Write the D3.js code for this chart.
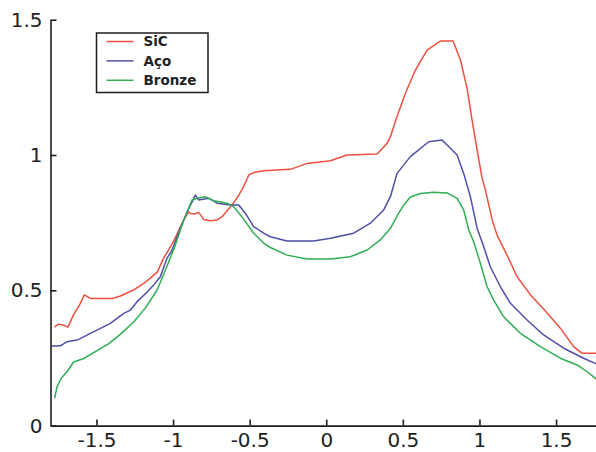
<!DOCTYPE html>
<html>
<head>
<meta charset="utf-8">
<script src="https://cdn.jsdelivr.net/npm/d3@7"></script>
<style>
  html, body { margin: 0; padding: 0; background: #fff; }
  svg { display: block; }
</style>
</head>
<body>
<div id="chart"></div>
<script>
// Series values (x in normalized position, y in measured response)
const sicX = [-1.774,-1.748,-1.716,-1.686,-1.650,-1.610,-1.579,-1.539,-1.474,-1.396,-1.344,-1.259,-1.194,-1.148,-1.102,-1.062,-1.029,-0.998,-0.965,-0.930,-0.898,-0.887,-0.861,-0.833,-0.800,-0.756,-0.712,-0.680,-0.615,-0.571,-0.539,-0.506,-0.474,-0.408,-0.234,-0.125,0.027,0.136,0.332,0.397,0.419,0.462,0.517,0.582,0.658,0.745,0.828,0.876,0.919,0.952,0.985,1.017,1.039,1.083,1.115,1.180,1.246,1.333,1.419,1.528,1.615,1.670,1.763,1.80];
const sicY = [0.364,0.375,0.371,0.364,0.409,0.446,0.483,0.470,0.470,0.470,0.479,0.501,0.525,0.545,0.568,0.619,0.649,0.680,0.719,0.760,0.790,0.784,0.782,0.788,0.762,0.757,0.760,0.772,0.815,0.852,0.883,0.926,0.935,0.942,0.947,0.969,0.979,1.000,1.004,1.043,1.068,1.142,1.228,1.314,1.388,1.421,1.421,1.351,1.247,1.129,1.018,0.915,0.871,0.760,0.704,0.630,0.550,0.483,0.431,0.360,0.292,0.267,0.267,0.267];

const acoX = [-1.794,-1.735,-1.692,-1.626,-1.539,-1.409,-1.322,-1.278,-1.235,-1.169,-1.126,-1.083,-1.039,-1.006,-0.974,-0.908,-0.854,-0.833,-0.767,-0.712,-0.626,-0.571,-0.528,-0.474,-0.408,-0.365,-0.256,-0.082,0.027,0.179,0.288,0.375,0.419,0.462,0.549,0.669,0.756,0.789,0.854,0.897,0.941,0.985,1.028,1.071,1.137,1.202,1.311,1.419,1.550,1.680,1.763,1.80];
const acoY = [0.294,0.295,0.310,0.316,0.341,0.378,0.415,0.427,0.458,0.494,0.520,0.550,0.619,0.649,0.698,0.790,0.852,0.834,0.840,0.822,0.815,0.815,0.785,0.735,0.711,0.698,0.682,0.682,0.692,0.711,0.748,0.797,0.846,0.932,0.994,1.049,1.055,1.037,1.000,0.932,0.846,0.729,0.661,0.587,0.513,0.452,0.390,0.335,0.286,0.249,0.228,0.220];

const bronzeX = [-1.773,-1.757,-1.729,-1.692,-1.649,-1.583,-1.518,-1.422,-1.344,-1.257,-1.180,-1.104,-1.039,-0.985,-0.930,-0.876,-0.843,-0.789,-0.735,-0.647,-0.604,-0.539,-0.474,-0.408,-0.365,-0.256,-0.125,0.027,0.157,0.267,0.353,0.419,0.473,0.506,0.549,0.615,0.701,0.789,0.854,0.897,0.930,0.962,1.006,1.050,1.093,1.158,1.267,1.398,1.528,1.637,1.703,1.763,1.80];
const bronzeY = [0.101,0.144,0.176,0.199,0.235,0.248,0.270,0.302,0.337,0.383,0.435,0.501,0.590,0.667,0.760,0.834,0.840,0.846,0.831,0.822,0.809,0.763,0.711,0.674,0.658,0.630,0.616,0.616,0.624,0.649,0.686,0.729,0.785,0.815,0.845,0.858,0.862,0.860,0.840,0.797,0.723,0.680,0.600,0.513,0.464,0.402,0.341,0.292,0.249,0.224,0.199,0.172,0.150];

const seriesNames = ["SiC", "Aço", "Bronze"];
const xTicks = [-1.5, -1, -0.5, 0, 0.5, 1, 1.5];
const xTickLabels = ["-1.5", "-1", "-0.5", "0", "0.5", "1", "1.5"];
const yTicks = [0, 0.5, 1, 1.5];
const yTickLabels = ["0", "0.5", "1", "1.5"];

const colors = ["#ee5040", "#4f4fa8", "#2fae52"];

const W = 596, H = 452;
const svg = d3.select("#chart").append("svg")
  .attr("width", W).attr("height", H)
  .style("background", "#fff");

const x = d3.scaleLinear().domain([-1.8, 1.8]).range([50.5, 602]);
const y = d3.scaleLinear().domain([0, 1.5]).range([425.6, 19.7]);

const series = [
  { name: seriesNames[0], xs: sicX, ys: sicY, color: colors[0] },
  { name: seriesNames[1], xs: acoX, ys: acoY, color: colors[1] },
  { name: seriesNames[2], xs: bronzeX, ys: bronzeY, color: colors[2] }
];

const line = d3.line().x(d => x(d[0])).y(d => y(d[1]));

// curves
svg.append("g").selectAll("path")
  .data(series)
  .join("path")
  .attr("fill", "none")
  .attr("stroke", d => d.color)
  .attr("stroke-width", 1.5)
  .attr("stroke-linejoin", "round")
  .attr("d", d => line(d.xs.map((v, i) => [v, d.ys[i]])));

// axes
const axisColor = "#1e1e1e";
const fontFamily = "'DejaVu Sans', Verdana, sans-serif";

const xAxis = d3.axisBottom(x)
  .tickValues(xTicks)
  .tickFormat((d, i) => xTickLabels[i])
  .tickSizeInner(-6).tickSizeOuter(0).tickPadding(7.5);

const yAxis = d3.axisLeft(y)
  .tickValues(yTicks)
  .tickFormat((d, i) => yTickLabels[i])
  .tickSizeInner(-6).tickSizeOuter(0).tickPadding(8);

const gx = svg.append("g").attr("transform", `translate(0,${y(0)})`).call(xAxis);
const gy = svg.append("g").attr("transform", `translate(${x(-1.8)},0)`).call(yAxis);

[gx, gy].forEach(g => {
  g.select(".domain").attr("stroke", axisColor).attr("stroke-width", 1.6);
  g.selectAll(".tick line").attr("stroke", axisColor).attr("stroke-width", 1.6);
  g.selectAll(".tick text")
    .attr("fill", "#222")
    .style("font-family", fontFamily)
    .style("font-size", "20px");
});

// legend
const legend = svg.append("g");
legend.append("rect")
  .attr("x", 96.5).attr("y", 33)
  .attr("width", 111.5).attr("height", 59.5)
  .attr("fill", "#fff")
  .attr("stroke", "#1e1e1e")
  .attr("stroke-width", 1.5);

const rows = legend.selectAll("g.row")
  .data(series)
  .join("g")
  .attr("class", "row")
  .attr("transform", (d, i) => `translate(0,${41.5 + i * 19.4})`);

rows.append("line")
  .attr("x1", 106.5).attr("x2", 133.5)
  .attr("y1", 0).attr("y2", 0)
  .attr("stroke", d => d.color)
  .attr("stroke-width", 1.5);

rows.append("text")
  .attr("x", 143.5).attr("y", 0)
  .attr("dy", "0.36em")
  .attr("fill", "#222")
  .style("font-family", fontFamily)
  .style("font-weight", "bold")
  .style("font-size", "13.5px")
  .text(d => d.name);
</script>
</body>
</html>
